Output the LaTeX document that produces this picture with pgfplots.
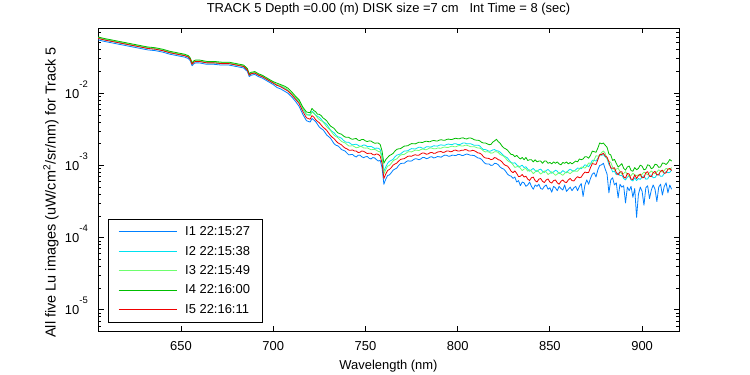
\documentclass[border=0pt]{standalone}
\usepackage{pgfplots}
\pgfplotsset{compat=1.18}
\usepackage{pgfplotstable}
\usepackage{fontspec}
\setmainfont{Liberation Sans}
\definecolor{cI1}{RGB}{0,128,255}
\definecolor{cI2}{RGB}{0,225,240}
\definecolor{cI3}{RGB}{110,255,110}
\definecolor{cI4}{RGB}{0,190,0}
\definecolor{cI5}{RGB}{240,0,0}
\pgfplotstableread{
x i1 i2 i3 i4 i5
605 5.495e-2 5.754e-2 5.888e-2 6.026e-2 5.754e-2
608 5.248e-2 5.495e-2 5.623e-2 5.754e-2 5.495e-2
612 5.012e-2 5.248e-2 5.370e-2 5.495e-2 5.248e-2
616 4.786e-2 5.012e-2 5.129e-2 5.248e-2 5.012e-2
620 4.571e-2 4.786e-2 4.898e-2 5.012e-2 4.786e-2
624 4.365e-2 4.571e-2 4.677e-2 4.786e-2 4.571e-2
628 4.169e-2 4.365e-2 4.467e-2 4.571e-2 4.365e-2
632 3.981e-2 4.169e-2 4.266e-2 4.365e-2 4.169e-2
636 3.890e-2 4.074e-2 4.169e-2 4.266e-2 4.074e-2
640 3.715e-2 3.890e-2 3.981e-2 4.074e-2 3.890e-2
644 3.467e-2 3.631e-2 3.715e-2 3.802e-2 3.631e-2
648 3.311e-2 3.467e-2 3.548e-2 3.631e-2 3.467e-2
652 3.162e-2 3.311e-2 3.388e-2 3.467e-2 3.311e-2
654 3.020e-2 3.162e-2 3.236e-2 3.311e-2 3.162e-2
655 2.818e-2 2.951e-2 3.020e-2 3.090e-2 2.951e-2
656 2.399e-2 2.512e-2 2.570e-2 2.630e-2 2.512e-2
657 2.570e-2 2.692e-2 2.754e-2 2.818e-2 2.692e-2
658 2.630e-2 2.754e-2 2.818e-2 2.884e-2 2.754e-2
660 2.630e-2 2.754e-2 2.818e-2 2.884e-2 2.754e-2
664 2.512e-2 2.630e-2 2.692e-2 2.754e-2 2.630e-2
668 2.512e-2 2.630e-2 2.692e-2 2.754e-2 2.630e-2
672 2.455e-2 2.570e-2 2.630e-2 2.692e-2 2.570e-2
676 2.455e-2 2.570e-2 2.630e-2 2.692e-2 2.570e-2
680 2.344e-2 2.455e-2 2.512e-2 2.570e-2 2.455e-2
684 2.239e-2 2.344e-2 2.399e-2 2.455e-2 2.344e-2
686 1.995e-2 2.089e-2 2.138e-2 2.188e-2 2.089e-2
687 1.698e-2 1.778e-2 1.820e-2 1.862e-2 1.778e-2
688 1.778e-2 1.862e-2 1.905e-2 1.950e-2 1.862e-2
690 1.820e-2 1.905e-2 1.950e-2 1.995e-2 1.905e-2
692 1.698e-2 1.778e-2 1.820e-2 1.862e-2 1.778e-2
694 1.622e-2 1.698e-2 1.738e-2 1.778e-2 1.698e-2
696 1.514e-2 1.585e-2 1.622e-2 1.660e-2 1.585e-2
698 1.413e-2 1.479e-2 1.514e-2 1.549e-2 1.479e-2
700 1.318e-2 1.380e-2 1.413e-2 1.445e-2 1.380e-2
702 1.202e-2 1.288e-2 1.318e-2 1.380e-2 1.288e-2
704 1.148e-2 1.259e-2 1.288e-2 1.318e-2 1.230e-2
706 1.072e-2 1.175e-2 1.202e-2 1.259e-2 1.148e-2
708 1.000e-2 1.096e-2 1.122e-2 1.175e-2 1.072e-2
710 8.913e-3 9.772e-3 1.000e-2 1.047e-2 9.550e-3
712 7.762e-3 8.511e-3 8.710e-3 9.120e-3 8.318e-3
714 6.607e-3 7.586e-3 7.762e-3 8.128e-3 7.244e-3
716 5.129e-3 6.026e-3 6.166e-3 6.457e-3 5.623e-3
718 4.169e-3 5.012e-3 5.129e-3 5.495e-3 4.571e-3
720 3.981e-3 5.012e-3 4.898e-3 5.370e-3 4.365e-3
721 4.467e-3 5.623e-3 5.495e-3 6.166e-3 4.898e-3
722 4.266e-3 5.370e-3 5.248e-3 5.754e-3 4.677e-3
723 4.05e-3 5.00e-3 4.95e-3 5.55e-3 4.30e-3
724 3.715e-3 4.786e-3 4.571e-3 5.129e-3 4.074e-3
725 3.40e-3 4.65e-3 4.30e-3 5.10e-3 3.90e-3
726 3.236e-3 4.365e-3 4.169e-3 4.898e-3 3.631e-3
727 3.12e-3 4.05e-3 4.00e-3 4.55e-3 3.38e-3
728 2.884e-3 3.890e-3 3.715e-3 4.365e-3 3.236e-3
729 2.64e-3 3.70e-3 3.42e-3 4.15e-3 3.06e-3
730 2.512e-3 3.388e-3 3.236e-3 3.802e-3 2.818e-3
731 2.39e-3 3.10e-3 3.06e-3 3.52e-3 2.60e-3
732 2.188e-3 2.951e-3 2.818e-3 3.388e-3 2.455e-3
733 2.00e-3 2.84e-3 2.62e-3 3.26e-3 2.35e-3
734 1.905e-3 2.630e-3 2.512e-3 3.020e-3 2.188e-3
735 1.87e-3 2.50e-3 2.43e-3 2.83e-3 2.06e-3
736 1.778e-3 2.455e-3 2.291e-3 2.754e-3 1.995e-3
737 1.66e-3 2.38e-3 2.16e-3 2.71e-3 1.93e-3
738 1.622e-3 2.239e-3 2.089e-3 2.570e-3 1.820e-3
739 1.58e-3 2.13e-3 2.05e-3 2.47e-3 1.74e-3
740 1.479e-3 2.089e-3 1.950e-3 2.455e-3 1.698e-3
741 1.40e-3 2.09e-3 1.86e-3 2.45e-3 1.63e-3
742 1.413e-3 1.995e-3 1.862e-3 2.344e-3 1.622e-3
743 1.42e-3 1.93e-3 1.88e-3 2.30e-3 1.64e-3
744 1.349e-3 1.950e-3 1.820e-3 2.344e-3 1.585e-3
745 1.31e-3 1.97e-3 1.76e-3 2.36e-3 1.58e-3
746 1.380e-3 1.905e-3 1.778e-3 2.239e-3 1.514e-3
747 1.39e-3 1.84e-3 1.83e-3 2.21e-3 1.52e-3
748 1.318e-3 1.862e-3 1.820e-3 2.291e-3 1.585e-3
749 1.28e-3 1.92e-3 1.75e-3 2.28e-3 1.57e-3
750 1.318e-3 1.905e-3 1.738e-3 2.188e-3 1.514e-3
751 1.33e-3 1.83e-3 1.75e-3 2.14e-3 1.46e-3
752 1.259e-3 1.820e-3 1.698e-3 2.188e-3 1.479e-3
753 1.23e-3 1.84e-3 1.65e-3 2.18e-3 1.48e-3
754 1.288e-3 1.778e-3 1.660e-3 2.089e-3 1.413e-3
755 1.27e-3 1.72e-3 1.67e-3 2.03e-3 1.40e-3
756 1.202e-3 1.738e-3 1.622e-3 2.042e-3 1.445e-3
757 1.15e-3 1.73e-3 1.56e-3 2.04e-3 1.42e-3
758 1.175e-3 1.660e-3 1.549e-3 1.950e-3 1.349e-3
759 9.333e-4 1.318e-3 1.230e-3 1.585e-3 1.072e-3
760 5.495e-4 8.318e-4 7.586e-4 1.072e-3 6.607e-4
761 6.457e-4 9.550e-4 8.710e-4 1.202e-3 7.586e-4
762 7.244e-4 1.072e-3 9.772e-4 1.288e-3 8.511e-4
763 7.4e-4 1.14e-3 1.00e-3 1.37e-3 8.8e-4
764 7.943e-4 1.175e-3 1.072e-3 1.413e-3 9.333e-4
765 8.6e-4 1.22e-3 1.16e-3 1.47e-3 1.01e-3
766 8.913e-4 1.318e-3 1.202e-3 1.585e-3 1.047e-3
767 9.2e-4 1.39e-3 1.23e-3 1.67e-3 1.08e-3
768 1.000e-3 1.413e-3 1.318e-3 1.698e-3 1.148e-3
769 1.06e-3 1.44e-3 1.39e-3 1.71e-3 1.21e-3
770 1.072e-3 1.514e-3 1.413e-3 1.778e-3 1.230e-3
771 1.07e-3 1.58e-3 1.42e-3 1.85e-3 1.24e-3
772 1.122e-3 1.585e-3 1.479e-3 1.862e-3 1.288e-3
773 1.16e-3 1.60e-3 1.54e-3 1.88e-3 1.34e-3
774 1.148e-3 1.660e-3 1.549e-3 1.950e-3 1.349e-3
775 1.15e-3 1.71e-3 1.54e-3 2.01e-3 1.34e-3
776 1.202e-3 1.698e-3 1.585e-3 1.995e-3 1.380e-3
777 1.24e-3 1.69e-3 1.63e-3 1.99e-3 1.41e-3
778 1.230e-3 1.738e-3 1.622e-3 2.042e-3 1.380e-3
779 1.20e-3 1.79e-3 1.61e-3 2.10e-3 1.39e-3
780 1.230e-3 1.778e-3 1.660e-3 2.089e-3 1.445e-3
781 1.29e-3 1.73e-3 1.69e-3 2.08e-3 1.49e-3
782 1.288e-3 1.738e-3 1.660e-3 2.138e-3 1.479e-3
783 1.24e-3 1.81e-3 1.65e-3 2.17e-3 1.43e-3
784 1.259e-3 1.820e-3 1.698e-3 2.138e-3 1.445e-3
785 1.31e-3 1.79e-3 1.75e-3 2.13e-3 1.50e-3
786 1.318e-3 1.820e-3 1.738e-3 2.188e-3 1.514e-3
787 1.27e-3 1.87e-3 1.70e-3 2.22e-3 1.47e-3
788 1.288e-3 1.862e-3 1.698e-3 2.188e-3 1.479e-3
789 1.33e-3 1.85e-3 1.74e-3 2.18e-3 1.53e-3
790 1.318e-3 1.905e-3 1.738e-3 2.239e-3 1.549e-3
791 1.30e-3 1.93e-3 1.73e-3 2.27e-3 1.56e-3
792 1.349e-3 1.905e-3 1.778e-3 2.239e-3 1.514e-3
793 1.39e-3 1.90e-3 1.80e-3 2.23e-3 1.53e-3
794 1.380e-3 1.950e-3 1.778e-3 2.291e-3 1.585e-3
795 1.34e-3 1.98e-3 1.78e-3 2.32e-3 1.59e-3
796 1.349e-3 1.950e-3 1.820e-3 2.291e-3 1.549e-3
797 1.39e-3 1.94e-3 1.85e-3 2.29e-3 1.56e-3
798 1.380e-3 1.995e-3 1.820e-3 2.344e-3 1.622e-3
799 1.37e-3 2.00e-3 1.81e-3 2.38e-3 1.63e-3
800 1.413e-3 1.950e-3 1.862e-3 2.344e-3 1.585e-3
801 1.42e-3 1.94e-3 1.89e-3 2.34e-3 1.58e-3
802 1.380e-3 1.995e-3 1.862e-3 2.399e-3 1.622e-3
803 1.37e-3 2.05e-3 1.86e-3 2.41e-3 1.62e-3
804 1.413e-3 2.042e-3 1.905e-3 2.344e-3 1.660e-3
805 1.44e-3 1.99e-3 1.90e-3 2.33e-3 1.64e-3
806 1.413e-3 1.995e-3 1.862e-3 2.399e-3 1.585e-3
807 1.38e-3 2.00e-3 1.82e-3 2.40e-3 1.58e-3
808 1.380e-3 1.950e-3 1.820e-3 2.344e-3 1.622e-3
809 1.37e-3 1.90e-3 1.82e-3 2.27e-3 1.60e-3
810 1.318e-3 1.905e-3 1.778e-3 2.239e-3 1.549e-3
811 1.27e-3 1.91e-3 1.74e-3 2.24e-3 1.49e-3
812 1.259e-3 1.862e-3 1.738e-3 2.188e-3 1.479e-3
813 1.21e-3 1.74e-3 1.68e-3 2.09e-3 1.42e-3
814 1.122e-3 1.660e-3 1.585e-3 2.042e-3 1.318e-3
815 1.06e-3 1.66e-3 1.54e-3 2.05e-3 1.27e-3
816 1.047e-3 1.622e-3 1.549e-3 1.995e-3 1.259e-3
817 1.05e-3 1.57e-3 1.53e-3 1.94e-3 1.25e-3
818 1.000e-3 1.585e-3 1.479e-3 1.950e-3 1.202e-3
819 1.01e-3 1.64e-3 1.49e-3 2.10e-3 1.22e-3
820 1.072e-3 1.660e-3 1.549e-3 2.188e-3 1.288e-3
821 1.06e-3 1.60e-3 1.55e-3 2.30e-3 1.26e-3
822 1.023e-3 1.585e-3 1.514e-3 2.138e-3 1.202e-3
823 9.5e-4 1.53e-3 1.42e-3 2.03e-3 1.18e-3
824 9.120e-4 1.445e-3 1.380e-3 1.862e-3 1.122e-3
825 8.9e-4 1.36e-3 1.34e-3 1.75e-3 1.04e-3
826 8.318e-4 1.318e-3 1.259e-3 1.698e-3 1.000e-3
827 7.6e-4 1.27e-3 1.17e-3 1.63e-3 9.8e-4
828 7.244e-4 1.175e-3 1.122e-3 1.514e-3 9.120e-4
829 7.1e-4 1.10e-3 1.09e-3 1.42e-3 8.3e-4
830 6.61e-4 1.072e-3 1.023e-3 1.41e-3 7.943e-4
831 6.92e-4 1.09e-3 9.4e-4 1.32e-3 8.4e-4
832 5.89e-4 1.023e-3 9.550e-4 1.38e-3 7.762e-4
833 6.17e-4 9.5e-4 9.9e-4 1.29e-3 7.0e-4
834 5.25e-4 9.772e-4 9.120e-4 1.23e-3 7.079e-4
835 5.89e-4 1.01e-3 8.5e-4 1.29e-3 7.5e-4
836 5.75e-4 9.333e-4 8.913e-4 1.20e-3 6.918e-4
837 5.13e-4 9.6e-4 9.1e-4 1.29e-3 7.1e-4
838 5.37e-4 8.913e-4 8.318e-4 1.17e-3 6.457e-4
839 5.89e-4 8.3e-4 8.7e-4 1.20e-3 6.2e-4
840 5.13e-4 8.710e-4 8.318e-4 1.20e-3 6.761e-4
841 4.68e-4 9.1e-4 7.7e-4 1.12e-3 6.9e-4
842 5.37e-4 8.511e-4 8.128e-4 1.20e-3 6.166e-4
843 5.13e-4 8.2e-4 8.6e-4 1.12e-3 5.9e-4
844 5.50e-4 8.710e-4 8.128e-4 1.15e-3 6.457e-4
845 4.79e-4 8.9e-4 7.6e-4 1.15e-3 6.6e-4
846 4.68e-4 8.318e-4 7.943e-4 1.07e-3 6.026e-4
847 5.13e-4 8.0e-4 8.4e-4 1.15e-3 5.8e-4
848 5.37e-4 8.511e-4 8.128e-4 1.15e-3 6.310e-4
849 4.68e-4 8.8e-4 7.5e-4 1.07e-3 6.5e-4
850 4.90e-4 8.318e-4 7.762e-4 1.10e-3 5.888e-4
851 4.27e-4 7.8e-4 8.2e-4 1.05e-3 5.7e-4
852 5.13e-4 8.128e-4 7.762e-4 1.12e-3 6.166e-4
853 4.90e-4 8.6e-4 7.3e-4 1.07e-3 6.3e-4
854 4.47e-4 8.318e-4 7.586e-4 1.12e-3 5.754e-4
855 5.13e-4 7.7e-4 8.0e-4 1.05e-3 5.5e-4
856 4.79e-4 7.943e-4 7.586e-4 1.02e-3 6.026e-4
857 4.57e-4 8.5e-4 7.3e-4 1.10e-3 6.3e-4
858 5.37e-4 8.128e-4 7.762e-4 1.07e-3 5.888e-4
859 4.37e-4 7.9e-4 8.2e-4 1.12e-3 5.8e-4
860 4.68e-4 8.511e-4 7.943e-4 1.05e-3 6.310e-4
861 5.01e-4 8.9e-4 7.7e-4 1.10e-3 6.6e-4
862 4.47e-4 8.511e-4 8.128e-4 1.05e-3 6.166e-4
863 4.90e-4 8.3e-4 8.5e-4 1.10e-3 6.1e-4
864 5.13e-4 8.710e-4 8.318e-4 1.15e-3 6.607e-4
865 4.47e-4 9.2e-4 8.3e-4 1.12e-3 7.0e-4
866 5.13e-4 9.120e-4 8.913e-4 1.23e-3 6.761e-4
867 5.62e-4 9.0e-4 9.5e-4 1.20e-3 6.9e-4
868 3.72e-4 9.550e-4 9.333e-4 1.23e-3 7.586e-4
869 5.37e-4 1.02e-3 9.2e-4 1.32e-3 8.1e-4
870 6.31e-4 1.000e-3 9.772e-4 1.318e-3 7.943e-4
871 5.50e-4 9.6e-4 1.08e-3 1.26e-3 8.0e-4
872 6.61e-4 1.047e-3 1.072e-3 1.380e-3 9.333e-4
873 7.59e-4 1.18e-3 1.07e-3 1.58e-3 1.06e-3
874 7.94e-4 1.175e-3 1.202e-3 1.549e-3 1.047e-3
875 6.92e-4 1.15e-3 1.36e-3 1.52e-3 1.03e-3
876 8.71e-4 1.259e-3 1.349e-3 1.738e-3 1.202e-3
877 1.00e-3 1.41e-3 1.36e-3 2.05e-3 1.41e-3
878 1.02e-3 1.380e-3 1.514e-3 1.995e-3 1.413e-3
879 1.07e-3 1.413e-3 1.585e-3 2.042e-3 1.479e-3
880 8.91e-4 1.318e-3 1.479e-3 1.905e-3 1.349e-3
881 7.59e-4 1.25e-3 1.22e-3 1.78e-3 1.30e-3
882 4.17e-4 1.023e-3 1.148e-3 1.445e-3 1.122e-3
883 6.31e-4 9.6e-4 1.10e-3 1.40e-3 9.2e-4
884 6.76e-4 8.128e-4 9.550e-4 1.175e-3 9.120e-4
885 5.37e-4 8.3e-4 8.6e-4 1.21e-3 9.3e-4
886 5.75e-4 7.413e-4 8.913e-4 1.072e-3 7.943e-4
887 3.55e-4 7.9e-4 9.1e-4 9.5e-4 7.4e-4
888 5.50e-4 7.244e-4 8.318e-4 1.000e-3 8.128e-4
889 5.01e-4 7.3e-4 7.6e-4 1.06e-3 8.2e-4
890 5.25e-4 6.607e-4 7.762e-4 9.120e-4 6.918e-4
891 3.02e-4 6.3e-4 8.2e-4 8.6e-4 6.7e-4
892 5.01e-4 6.918e-4 7.586e-4 9.550e-4 7.762e-4
893 4.47e-4 7.1e-4 7.0e-4 9.8e-4 7.6e-4
894 5.13e-4 6.310e-4 7.244e-4 8.511e-4 6.457e-4
895 3.63e-4 6.1e-4 7.8e-4 8.3e-4 6.4e-4
896 4.79e-4 6.761e-4 7.413e-4 9.333e-4 7.413e-4
897 1.91e-4 6.166e-4 7.244e-4 8.710e-4 6.607e-4
898 3.98e-4 6.607e-4 7.413e-4 9.120e-4 7.244e-4
899 5.01e-4 6.4e-4 7.1e-4 1.01e-3 7.6e-4
900 4.37e-4 6.918e-4 7.586e-4 9.772e-4 6.761e-4
901 2.82e-4 7.2e-4 8.1e-4 8.7e-4 6.8e-4
902 4.90e-4 6.457e-4 7.762e-4 8.913e-4 7.943e-4
903 5.25e-4 6.5e-4 7.4e-4 1.02e-3 8.2e-4
904 3.47e-4 7.244e-4 7.943e-4 1.000e-3 7.079e-4
905 4.57e-4 7.4e-4 8.4e-4 9.0e-4 7.0e-4
906 5.37e-4 6.761e-4 7.943e-4 9.333e-4 7.943e-4
907 4.68e-4 6.8e-4 7.7e-4 1.04e-3 8.3e-4
908 3.16e-4 7.413e-4 8.128e-4 1.023e-3 7.413e-4
909 5.01e-4 7.6e-4 8.7e-4 9.4e-4 7.4e-4
910 5.50e-4 7.079e-4 8.318e-4 9.550e-4 8.318e-4
911 3.89e-4 7.1e-4 8.1e-4 1.08e-3 8.6e-4
912 5.13e-4 7.762e-4 8.511e-4 1.072e-3 7.762e-4
913 5.75e-4 8.2e-4 9.1e-4 1.03e-3 7.9e-4
914 4.17e-4 7.943e-4 8.913e-4 1.096e-3 8.913e-4
915 5.37e-4 8.0e-4 8.8e-4 1.21e-3 9.1e-4
916 4.68e-4 8.710e-4 9.333e-4 1.148e-3 8.511e-4
}\data
\newcommand{\tl}[1]{10\raisebox{11bp}{\fontsize{9.5}{10}\selectfont #1}}
\begin{document}
\begin{tikzpicture}
\useasboundingbox (-98bp,-44bp) rectangle (652bp,331bp);
\begin{axis}[
  at={(0bp,0bp)}, anchor=south west,
  scale only axis, width=581bp, height=303bp,
  xmin=605, xmax=920, ymin=5.1e-6, ymax=8e-2, ymode=log,
  axis line style={line width=0.8bp},
  every tick/.style={black, line width=0.8bp},
  tick align=inside, major tick length=5.5bp, minor tick length=3bp,
  xtick={650,700,750,800,850,900},
  ytick={1e-5,1e-4,1e-3,1e-2},
  yticklabels={\tl{-5},\tl{-4},\tl{-3},\tl{-2}},
  minor ytick={6e-6,7e-6,8e-6,9e-6,2e-5,3e-5,4e-5,5e-5,6e-5,7e-5,8e-5,9e-5,2e-4,3e-4,4e-4,5e-4,6e-4,7e-4,8e-4,9e-4,2e-3,3e-3,4e-3,5e-3,6e-3,7e-3,8e-3,9e-3,2e-2,3e-2,4e-2,5e-2,6e-2,7e-2},
  /pgf/number format/assume math mode=true,
  font=\fontsize{13}{15}\selectfont,
  ticklabel style={font=\fontsize{13}{15}\selectfont},
  xticklabel style={anchor=base, yshift=-19bp, inner sep=0pt},
  yticklabel style={anchor=base east, inner sep=0pt, xshift=-10bp, yshift=-5bp},
  title={TRACK 5 Depth =0.00 (m) DISK size =7 cm\ \ \ Int Time = 8 (sec)},
  title style={at={(axis description cs:0.5,1)}, anchor=base, yshift=10bp, inner sep=0pt},
  xlabel={Wavelength (nm)},
  xlabel style={at={(axis description cs:0.5,0)}, anchor=base, yshift=-38bp, inner sep=0pt},
  ylabel={All five Lu images (uW/cm\textsuperscript{2}/sr/nm) for Track 5},
  ylabel style={at={(axis description cs:-0.0731,0.457)}, anchor=base, inner sep=0pt, font=\fontsize{14.5}{16}\selectfont},
  legend cell align=left,
  legend style={at={(axis description cs:0.0172,0.0297)}, anchor=south west,
    inner xsep=10bp, inner ysep=5bp, row sep=4.9bp, font=\fontsize{13}{15}\selectfont,
    /tikz/every odd column/.append style={column sep=6bp}},
  legend image code/.code={\draw[mark repeat=2,mark phase=2,#1,line width=1bp] (0bp,0bp) -- (58bp,0bp);},
  every axis plot/.append style={line width=0.8bp, line join=round, no markers},
]
\addplot[color=cI1] table[x=x, y=i1]{\data};
\addlegendentry{I1 22:15:27}
\addplot[color=cI2] table[x=x, y=i2]{\data};
\addlegendentry{I2 22:15:38}
\addplot[color=cI3] table[x=x, y=i3]{\data};
\addlegendentry{I3 22:15:49}
\addplot[color=cI4] table[x=x, y=i4]{\data};
\addlegendentry{I4 22:16:00}
\addplot[color=cI5] table[x=x, y=i5]{\data};
\addlegendentry{I5 22:16:11}
\end{axis}
\end{tikzpicture}
\end{document}
